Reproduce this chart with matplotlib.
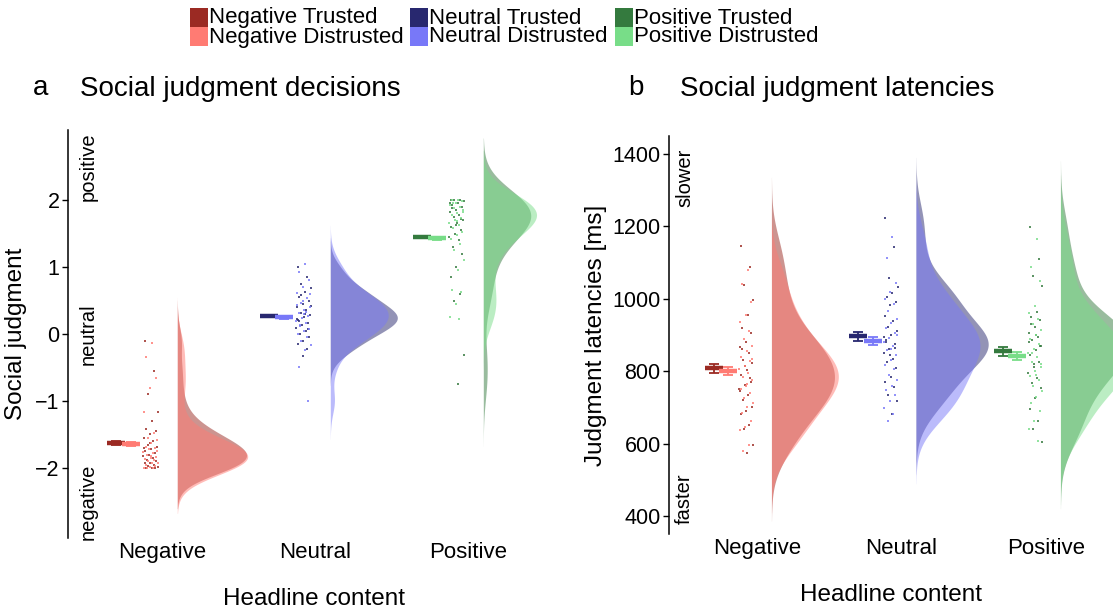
import numpy as np
import matplotlib
matplotlib.use('Agg')
import matplotlib.pyplot as plt
from matplotlib.patches import Rectangle

plt.rcParams['font.family'] = ['Liberation Sans', 'DejaVu Sans']

W, H = 1113, 613

categories = ['Negative', 'Neutral', 'Positive']
conditions = ['Trusted', 'Distrusted']
colors_trusted = ['#9B2A23', '#28286F', '#347A3E']
colors_distrusted = ['#FF7B73', '#7878F8', '#78DD88']

# ---- panel a: social judgment decisions (participant means) ----
dec_neg_trusted = [-0.1, -0.55, -0.9, -1.17, -1.3, -1.42, -1.45, -1.5, -1.55, -1.6,
                   -1.65, -1.68, -1.72, -1.75, -1.78, -1.8, -1.82, -1.85, -1.88, -1.9,
                   -1.92, -1.93, -1.95, -1.97, -1.98, -2.0, -2.0, -2.0, -1.62, -1.7]
dec_neg_distrusted = [-0.13, -0.35, -0.65, -0.8, -1.16, -1.48, -1.55, -1.58, -1.62, -1.68,
                      -1.7, -1.72, -1.76, -1.78, -1.8, -1.83, -1.85, -1.86, -1.88, -1.9,
                      -1.92, -1.93, -1.95, -1.97, -1.99, -2.0, -2.0, -2.0, -1.74, -1.82]
dec_neu_trusted = [1.0, 0.85, 0.75, 0.68, 0.62, 0.55, 0.5, 0.45, 0.4, 0.36,
                   0.32, 0.28, 0.25, 0.21, 0.17, 0.13, 0.09, 0.04, 0.0, -0.05,
                   -0.1, -0.15, -0.22, 0.58, 0.42, 0.3, 0.19, 0.07, -0.33, 0.23]
dec_neu_distrusted = [1.05, 0.93, 0.8, 0.7, 0.61, 0.54, 0.47, 0.41, 0.36, 0.31,
                      0.27, 0.24, 0.2, 0.16, 0.12, 0.08, 0.04, 0.0, -0.05, -0.1,
                      -0.16, -0.24, -0.5, -1.0, 0.5, 0.44, 0.33, 0.14, 0.6, 0.3]
dec_pos_trusted = [2.0, 2.0, 2.0, 1.98, 1.95, 1.92, 1.9, 1.85, 1.82, 1.78,
                   1.75, 1.7, 1.65, 1.6, 1.55, 1.5, 1.45, 1.4, 1.3, 1.2,
                   1.0, 0.85, 0.6, 0.5, -0.32, -0.75, 1.88, 1.72, 1.62, 1.95]
dec_pos_distrusted = [2.0, 2.0, 1.98, 1.96, 1.93, 1.9, 1.88, 1.85, 1.8, 1.77,
                      1.73, 1.7, 1.66, 1.62, 1.58, 1.52, 1.48, 1.42, 1.35, 1.25,
                      1.1, 0.95, 0.65, 0.62, 0.45, 0.25, 0.22, 1.95, 1.82, 1.68]
dec_mean_trusted = [-1.62, 0.27, 1.45]
dec_mean_distrusted = [-1.64, 0.25, 1.43]
dec_se_trusted = [0.03, 0.02, 0.02]
dec_se_distrusted = [0.03, 0.02, 0.02]

# ---- panel b: social judgment latencies [ms] ----
lat_neg_trusted = [1146, 1088, 1037, 996, 955, 918, 905, 880, 866, 849,
                   830, 822, 803, 790, 780, 761, 750, 735, 720, 700,
                   690, 683, 650, 640, 595, 575, 860, 770, 815, 745]
lat_neg_distrusted = [1079, 1040, 990, 955, 935, 910, 890, 870, 855, 840,
                      828, 815, 805, 795, 785, 775, 760, 752, 740, 725,
                      712, 700, 685, 662, 645, 637, 595, 580, 835, 765]
lat_neu_trusted = [1223, 1143, 1057, 1033, 1015, 1005, 990, 982, 952, 940,
                   921, 910, 900, 885, 876, 860, 850, 835, 825, 808,
                   784, 770, 756, 733, 717, 683, 880, 865, 845, 895]
lat_neu_distrusted = [1170, 1112, 1043, 1020, 1000, 985, 965, 945, 932, 920,
                      905, 892, 880, 870, 858, 845, 832, 818, 805, 790,
                      775, 760, 747, 733, 717, 697, 683, 661, 900, 860]
lat_pos_trusted = [1198, 1110, 1063, 1035, 963, 950, 942, 921, 905, 894,
                   885, 870, 858, 844, 825, 811, 795, 780, 767, 753,
                   725, 696, 663, 640, 604, 900, 930, 870, 820, 880]
lat_pos_distrusted = [1165, 1088, 1050, 980, 960, 945, 930, 915, 900, 888,
                      875, 862, 850, 838, 826, 812, 800, 788, 775, 760,
                      745, 730, 712, 690, 663, 640, 608, 850, 820, 790]
lat_mean_trusted = [808, 896, 855]
lat_mean_distrusted = [800, 883, 843]
lat_se_trusted = [13, 12, 12]
lat_se_distrusted = [11, 12, 11]


def kde(vals, npts=400):
    v = np.asarray(vals, float)
    n = len(v)
    bw = 0.9 * v.std(ddof=1) * n ** -0.2
    grid = np.linspace(v.min() - 3 * bw, v.max() + 3 * bw, npts)
    d = np.exp(-0.5 * ((grid[:, None] - v[None, :]) / bw) ** 2).sum(1) / (n * bw * np.sqrt(2 * np.pi))
    return grid, d


def jitter(n, width, phase):
    k = np.arange(n)
    return ((k * 0.6180339887 + phase) % 1.0 - 0.5) * 2 * width


def draw_panel(ax, trusted, distrusted, m_t, m_d, se_t, se_d, wmax):
    dens_t = [kde(v) for v in trusted]
    dens_d = [kde(v) for v in distrusted]
    gmax = max(d.max() for _, d in dens_t + dens_d)
    for i in range(3):
        x = i + 1
        x0 = x + 0.1
        for (g, d), col in ((dens_t[i], colors_trusted[i]), (dens_d[i], colors_distrusted[i])):
            ax.fill_betweenx(g, x0, x0 + d / gmax * wmax, color=col, alpha=0.5, lw=0, zorder=1)
        for vals, col, ph in ((trusted[i], colors_trusted[i], 0.13), (distrusted[i], colors_distrusted[i], 0.61)):
            jx = x - 0.075 + jitter(len(vals), 0.05, ph)
            ax.scatter(jx, vals, s=3.5, color=col, alpha=0.8, lw=0, marker='s', zorder=3)
        for mx, mm, se, col in ((x - 0.3, m_t[i], se_t[i], colors_trusted[i]),
                                (x - 0.2, m_d[i], se_d[i], colors_distrusted[i])):
            ax.plot([mx], [mm], marker='_', markersize=13, mew=3.2, color=col, zorder=4)
            ax.errorbar([mx], [mm], yerr=[se], fmt='none', ecolor=col, elinewidth=1.3,
                        capsize=3.5, capthick=1.3, zorder=5)


fig = plt.figure(figsize=(W / 100, H / 100), dpi=100)


def fx(px):
    return px / W


def fy(py):
    return 1 - py / H


# panel a axes
axA = fig.add_axes([fx(68), fy(538), fx(560) - fx(68), fy(130) - fy(538)])
draw_panel(axA,
           [dec_neg_trusted, dec_neu_trusted, dec_pos_trusted],
           [dec_neg_distrusted, dec_neu_distrusted, dec_pos_distrusted],
           dec_mean_trusted, dec_mean_distrusted, dec_se_trusted, dec_se_distrusted, 0.46)
axA.set_ylim(-3.045, 3.045)
axA.set_xlim(1 - 94 / 153, 3 + 92 / 153)
axA.set_yticks([-2, -1, 0, 1, 2])
axA.set_yticklabels(['\u22122', '\u22121', '0', '1', '2'])
axA.set_ylabel('Social judgment', fontsize=17.5, labelpad=6)
axA.text(0.52, 2.5, 'positive', rotation=90, ha='center', va='center', fontsize=14.5)
axA.text(0.52, 0.0, 'neutral', rotation=90, ha='center', va='center', fontsize=14.5)
axA.text(0.52, -2.5, 'negative', rotation=90, ha='center', va='center', fontsize=14.5)

# panel b axes
axB = fig.add_axes([fx(669), fy(534), 1 - fx(669), fy(136) - fy(534)])
draw_panel(axB,
           [lat_neg_trusted, lat_neu_trusted, lat_pos_trusted],
           [lat_neg_distrusted, lat_neu_distrusted, lat_pos_distrusted],
           lat_mean_trusted, lat_mean_distrusted, lat_se_trusted, lat_se_distrusted, 0.5)
axB.set_ylim(350, 1450)
axB.set_xlim(1 - 88 / 144.5, 1 + 356 / 144.5)
axB.set_yticks([400, 600, 800, 1000, 1200, 1400])
axB.set_ylabel('Judgment latencies [ms]', fontsize=17.5, labelpad=4)
axB.text(0.5, 1335, 'slower', rotation=90, ha='center', va='center', fontsize=14.5)
axB.text(0.5, 447, 'faster', rotation=90, ha='center', va='center', fontsize=14.5)

for ax in (axA, axB):
    for s in ('top', 'right', 'bottom'):
        ax.spines[s].set_visible(False)
    ax.spines['left'].set_linewidth(1.1)
    ax.set_xticks([1, 2, 3])
    ax.set_xticklabels(categories, fontsize=16)
    ax.tick_params(axis='x', length=0, pad=3)
    ax.tick_params(axis='y', labelsize=15.5, length=4, width=1.0, pad=2)
    ax.set_xlabel('Headline content', fontsize=17.5, labelpad=18)
    ax.set_facecolor('none')

# titles
fig.text(fx(33), fy(88), 'a', fontsize=20, ha='left', va='center')
fig.text(fx(80), fy(89), 'Social judgment decisions', fontsize=20, ha='left', va='center')
fig.text(fx(628), fy(88), 'b', fontsize=20, ha='left', va='center')
fig.text(fx(680), fy(89), 'Social judgment latencies', fontsize=20, ha='left', va='center')

# legend
col_x = [190, 410, 615]
for i, cat in enumerate(categories):
    for j, (cond, cols) in enumerate(((conditions[0], colors_trusted), (conditions[1], colors_distrusted))):
        top = 8 + j * 19
        fig.add_artist(Rectangle((fx(col_x[i]), fy(top + 19)), fx(18), fy(0) - fy(19),
                                 transform=fig.transFigure, color=cols[i], lw=0))
        fig.text(fx(col_x[i] + 19), fy(top + 10), f'{cat} {cond}', fontsize=16,
                 ha='left', va='center')

fig.savefig('out.png', dpi=100)
